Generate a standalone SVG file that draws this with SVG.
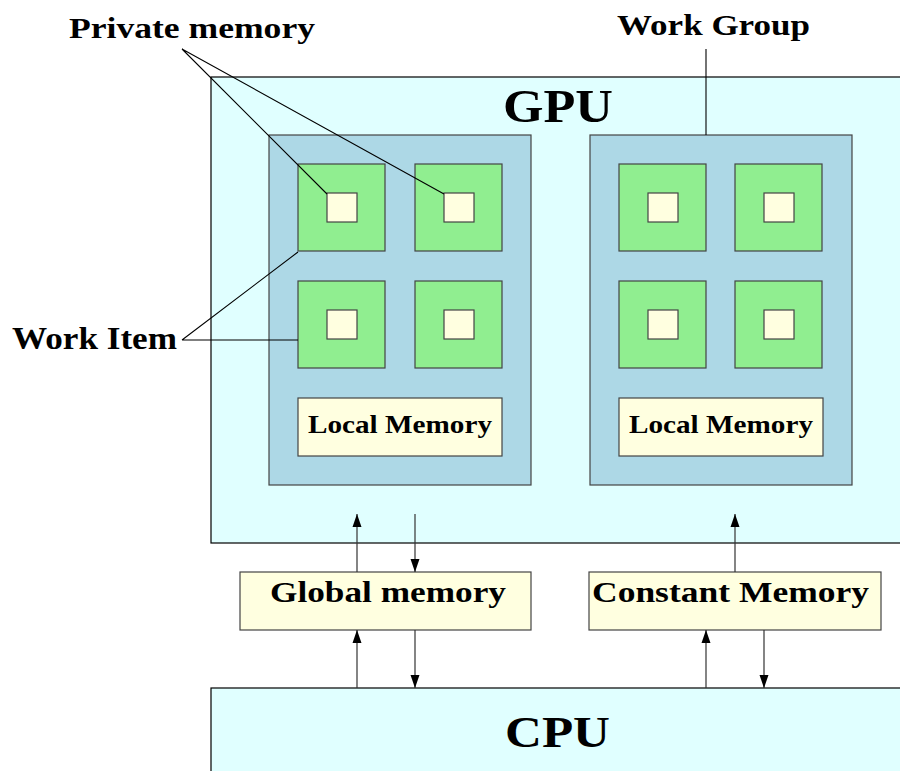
<svg xmlns="http://www.w3.org/2000/svg" width="900" height="771" viewBox="0 0 900 771">
  <style>
    text { font-family: "Liberation Serif", "DejaVu Serif", serif; font-weight: bold; fill: #000; }
    .chip { fill: #e0ffff; stroke: #000; stroke-width: 1.2; }
    .group { fill: #add8e6; stroke: #444; stroke-width: 1.2; }
    .item { fill: #90ee90; stroke: #444; stroke-width: 1.2; }
    .mem { fill: #ffffe0; stroke: #444; stroke-width: 1.2; }
    .lead { fill: none; stroke: #000; stroke-width: 1.1; }
    .link { fill: none; stroke: #333; stroke-width: 1.2; marker-end: url(#head); }
  </style>
  <defs>
    <marker id="head" viewBox="0 0 13 10" refX="13" refY="5" markerWidth="13" markerHeight="10" markerUnits="userSpaceOnUse" orient="auto">
      <path d="M0,0.5 L13,5 L0,9.5 Z" fill="#000"/>
    </marker>
    <g id="workitem">
      <rect class="item" x="0" y="0" width="87" height="87"/>
      <rect class="mem" x="29" y="29" width="30" height="29"/>
    </g>
  </defs>

  <!-- host and device -->
  <g id="gpu">
    <rect class="chip" x="211" y="77" width="700" height="466"/>
    <text x="503" y="122" font-size="46" textLength="110" lengthAdjust="spacingAndGlyphs">GPU</text>
  </g>
  <g id="cpu">
    <rect class="chip" x="211" y="688" width="700" height="100"/>
    <text x="505" y="747" font-size="45" textLength="105" lengthAdjust="spacingAndGlyphs">CPU</text>
  </g>

  <!-- work group 1 -->
  <g id="workgroup1">
    <rect class="group" x="269" y="135" width="262" height="350"/>
    <use href="#workitem" x="298" y="164"/>
    <use href="#workitem" x="415" y="164"/>
    <use href="#workitem" x="298" y="281"/>
    <use href="#workitem" x="415" y="281"/>
    <rect class="mem" x="298" y="398" width="204" height="58"/>
    <text x="308" y="433" font-size="25" textLength="184" lengthAdjust="spacingAndGlyphs">Local Memory</text>
  </g>

  <!-- work group 2 -->
  <g id="workgroup2">
    <rect class="group" x="590" y="135" width="262" height="350"/>
    <use href="#workitem" x="619" y="164"/>
    <use href="#workitem" x="735" y="164"/>
    <use href="#workitem" x="619" y="281"/>
    <use href="#workitem" x="735" y="281"/>
    <rect class="mem" x="619" y="398" width="204" height="58"/>
    <text x="629" y="433" font-size="25" textLength="184" lengthAdjust="spacingAndGlyphs">Local Memory</text>
  </g>

  <!-- device memories -->
  <g id="global-memory">
    <rect class="mem" x="240" y="572" width="291" height="58"/>
    <text x="270" y="602" font-size="29" textLength="236" lengthAdjust="spacingAndGlyphs">Global memory</text>
  </g>
  <g id="constant-memory">
    <rect class="mem" x="589" y="572" width="292" height="58"/>
    <text x="592" y="602" font-size="29" textLength="277" lengthAdjust="spacingAndGlyphs">Constant Memory</text>
  </g>

  <!-- callout labels -->
  <g id="label-private">
    <text x="69" y="38" font-size="30" textLength="246" lengthAdjust="spacingAndGlyphs">Private memory</text>
  </g>
  <g id="label-workgroup">
    <text x="617" y="35" font-size="30" textLength="193" lengthAdjust="spacingAndGlyphs">Work Group</text>
  </g>
  <g id="label-workitem">
    <text x="12" y="349" font-size="31" textLength="165" lengthAdjust="spacingAndGlyphs">Work Item</text>
  </g>

  <!-- connectors -->
  <g id="connectors">
    <path class="lead" d="M182,49 L327,194 M182,49 L444,194"/>
    <path class="lead" d="M706,49 L706,135"/>
    <path class="lead" d="M182,340 L298,252 M182,340 L298,340"/>

    <path class="link" d="M357,572 L357,514"/>
    <path class="link" d="M415,514 L415,572"/>
    <path class="link" d="M357,688 L357,630"/>
    <path class="link" d="M415,630 L415,688"/>
    <path class="link" d="M735,572 L735,514"/>
    <path class="link" d="M706,688 L706,630"/>
    <path class="link" d="M764,630 L764,688"/>
  </g>
</svg>
